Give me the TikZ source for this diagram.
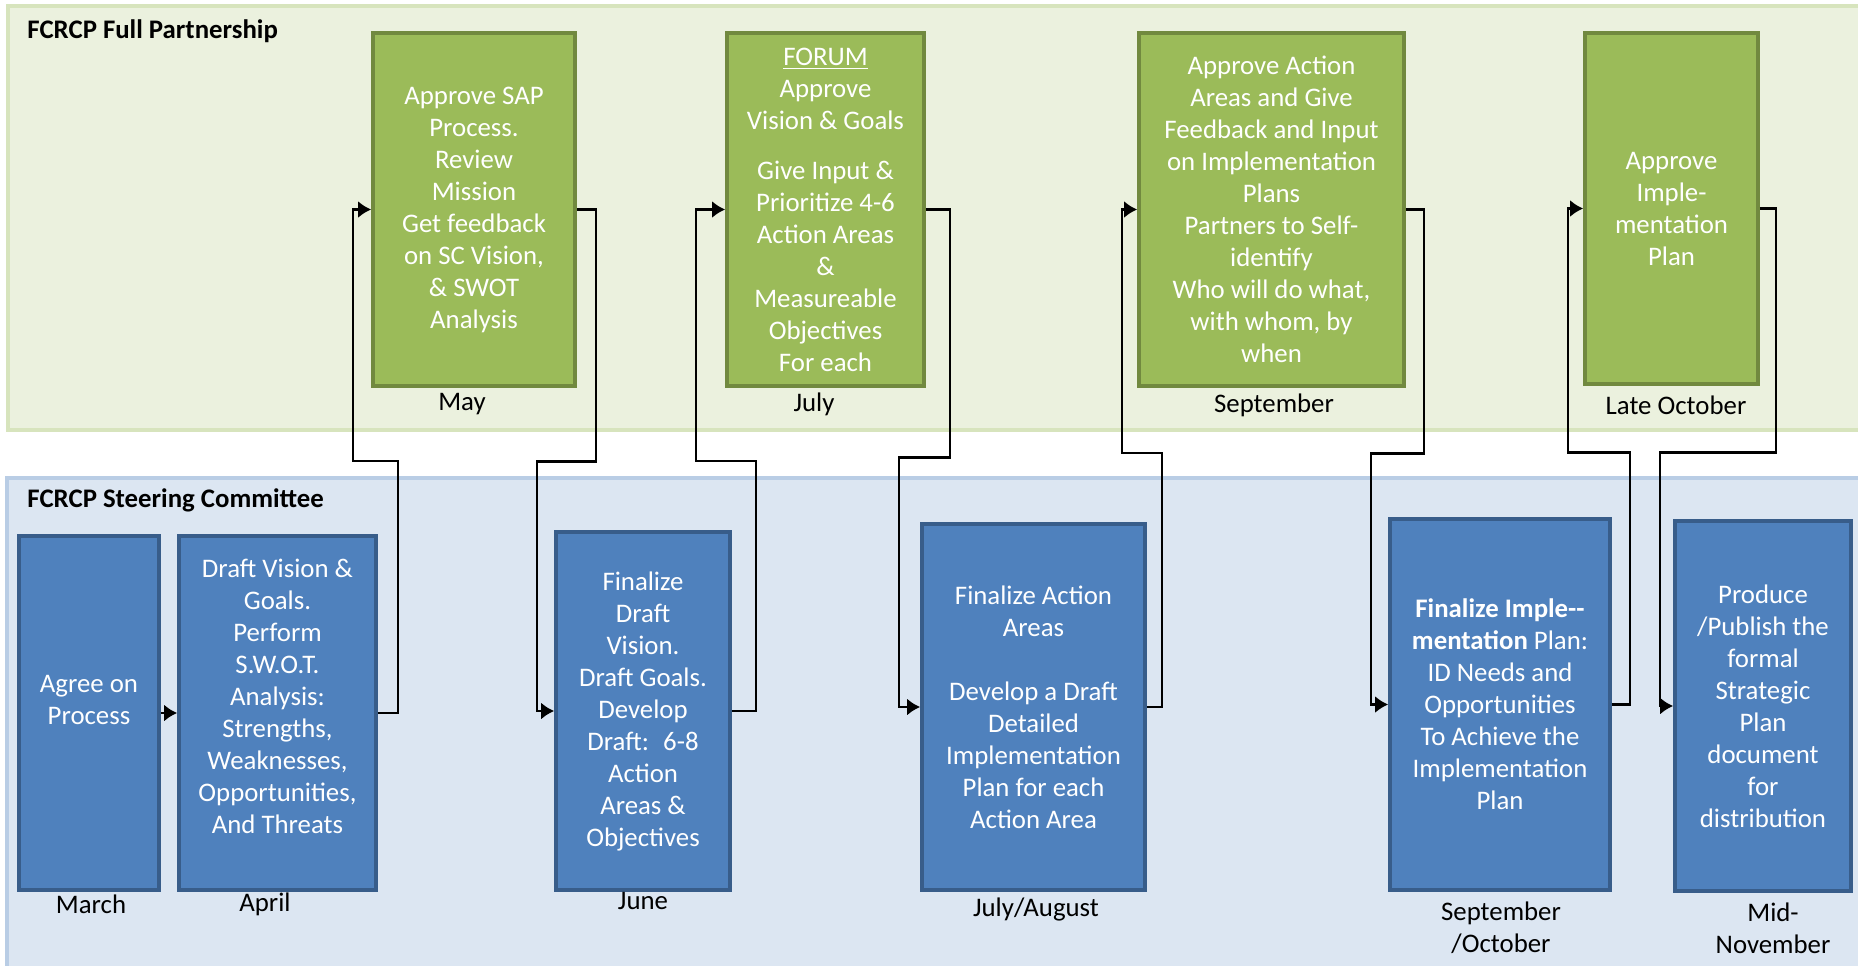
\documentclass[tikz,border=0pt]{standalone}
\usepackage{fontspec}
\setmainfont{Carlito}
\usetikzlibrary{arrows.meta}

\definecolor{bandgreen}{HTML}{EBF1DE}
\definecolor{bandgreenline}{HTML}{D7E4BD}
\definecolor{bandblue}{HTML}{DCE6F2}
\definecolor{bandblueline}{HTML}{B9CDE5}
\definecolor{boxgreen}{HTML}{9BBB59}
\definecolor{boxgreenline}{HTML}{71893F}
\definecolor{boxblue}{HTML}{4F81BD}
\definecolor{boxblueline}{HTML}{385D8A}

\tikzset{
  stagebox/.style={draw, line width=1.8pt, text=white, align=center, inner sep=0pt,
    font=\fontsize{13.4}{16}\selectfont},
  fullbox/.style={stagebox, fill=boxgreen, draw=boxgreenline},
  steerbox/.style={stagebox, fill=boxblue, draw=boxblueline},
  month/.style={align=center, inner sep=0pt, font=\fontsize{13.4}{16}\selectfont},
  bandtitle/.style={anchor=west, inner sep=0pt, font=\fontsize{13.4}{16}\selectfont\bfseries},
  flow/.style={line width=1.3pt, -{Latex[length=6.5pt,width=8.5pt]}},
}

\begin{document}
\begin{tikzpicture}[x=0.5pt,y=-0.5pt]
                    \useasboundingbox (0,0) rectangle (1858,965);
                    \clip (0,0) rectangle (1858,965);
                    % the two bands
                    \filldraw[fill=bandgreen, draw=bandgreenline, line width=2pt] (8,6) rectangle (1880,430);
                    \filldraw[fill=bandblue, draw=bandblueline, line width=2pt] (7,478) rectangle (1880,990);
                    \node[bandtitle] (full-title) at (27,31) {FCRCP Full Partnership};
                    \node[bandtitle] (steer-title) at (27,500) {FCRCP Steering Committee};
                    % full partnership steps
                    \node[fullbox, minimum width=101pt, minimum height=176.5pt] (may) at (474,209.5)
                        {Approve SAP\\Process.\\Review\\Mission\\Get feedback\\on SC Vision,\\\& SWOT\\Analysis};
                    \node[fullbox, minimum width=98.5pt, minimum height=176.5pt] (july) at (825.5,209.5)
                        {\underline{FORUM}\\Approve\\Vision \& Goals\\[9pt]Give Input~\&\\Prioritize 4-6\\Action Areas\\\&\\Measureable\\Objectives\\For each};
                    \node[fullbox, minimum width=132.5pt, minimum height=176.5pt] (sep) at (1271.5,209.5)
                        {Approve Action\\Areas and Give\\Feedback and Input\\on Implementation\\Plans\\Partners to Self-\\identify\\Who will do what,\\with whom, by\\when};
                    \node[fullbox, minimum width=86.5pt, minimum height=175.5pt] (lateoct) at (1671.5,208.5)
                        {Approve\\Imple-\\mentation\\Plan};
                    % steering committee steps (empty last line lifts the text a little)
                    \node[steerbox, minimum width=70pt, minimum height=177pt] (march) at (89,713)
                        {Agree on\\Process\\[-3pt]\mbox{}};
                    \node[steerbox, minimum width=98.5pt, minimum height=177pt] (april) at (277.5,713)
                        {Draft Vision~\&\\Goals.\\Perform\\S.W.O.T.\\Analysis:\\Strengths,\\Weaknesses,\\Opportunities,\\And Threats\\[1pt]\mbox{}};
                    \node[steerbox, minimum width=87pt, minimum height=179pt] (june) at (643,711)
                        {Finalize\\Draft\\Vision.\\Draft Goals.\\Develop\\Draft:~ 6-8\\Action\\Areas \&\\Objectives};
                    \node[steerbox, minimum width=111.5pt, minimum height=183pt] (julyaug) at (1033.5,707)
                        {Finalize Action\\Areas\\[16pt]Develop a Draft\\Detailed\\Implementation\\Plan for each\\Action Area};
                    \node[steerbox, minimum width=110pt, minimum height=185.5pt] (sepoct) at (1500,704.5)
                        {\textbf{Finalize Imple-{}-}\\\textbf{mentation} Plan:\\ID Needs and\\Opportunities\\To Achieve the\\Implementation\\Plan};
                    \node[steerbox, minimum width=88pt, minimum height=185pt] (midnov) at (1763,706)
                        {Produce\\/Publish the\\formal\\Strategic\\Plan\\document\\for\\distribution};
                    % months
                    \node[month] (may-lbl) at (462,404) {May};
                    \node[month] (july-lbl) at (814,404) {July};
                    \node[month] (sep-lbl) at (1274,405) {September};
                    \node[month] (lateoct-lbl) at (1676,405) {Late October};
                    \node[month] (march-lbl) at (91,904) {March};
                    \node[month] (april-lbl) at (265,904) {April};
                    \node[month] (june-lbl) at (643,901) {June};
                    \node[month] (julyaug-lbl) at (1036,909) {July/August};
                    \node[month] (sepoct-lbl) at (1501,928) {September\\/October};
                    \node[month] (midnov-lbl) at (1773,928) {Mid-\\November};
                    % ++ steps out of a box, then |- turns into the next one
                    \draw[flow] (march) -- (april);
                    \draw[flow] (april.east) -- ++(20,0) -- ++(0,-252) -- ++(-45,0) |- (may.west);
                    \draw[flow] (may.east) -- ++(19,0) -- ++(0,252) -- ++(-59,0) |- (june.west);
                    \draw[flow] (june.east) -- ++(24,0) -- ++(0,-250) -- ++(-60,0) |- (july.west);
                    \draw[flow] (july.east) -- ++(24,0) -- ++(0,248) -- ++(-51,0) |- (julyaug.west);
                    \draw[flow] (julyaug.east) -- ++(15,0) -- ++(0,-254) -- ++(-40,0) |- (sep.west);
                    \draw[flow] (sep.east) -- ++(18,0) -- ++(0,244) -- ++(-53,0) |- (sepoct.west);
                    \draw[flow] (sepoct.east) -- ++(18,0) -- ++(0,-252) -- ++(-62,0) |- (lateoct.west);
                    \draw[flow] (lateoct.east) -- ++(16,0) -- ++(0,244) -- ++(-116,0) |- (midnov.west);
                \end{tikzpicture}
\end{document}
